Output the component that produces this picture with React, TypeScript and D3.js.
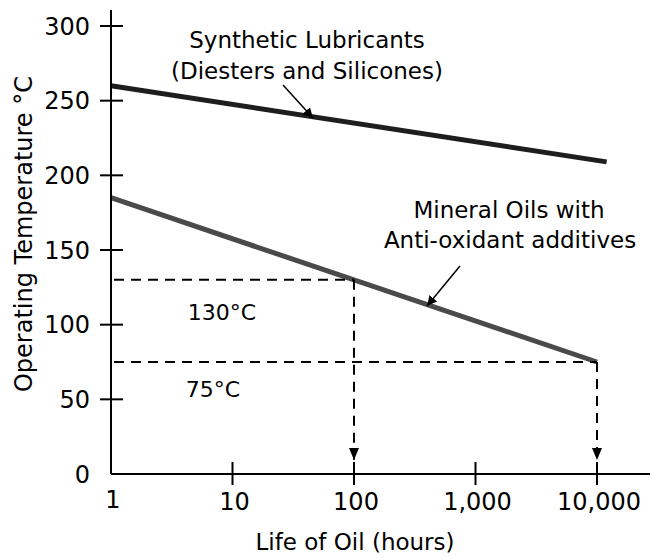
import React from "react";
import * as d3 from "d3";

const xTicks = [10, 100, 1000, 10000];
const xTickLabels = ["10", "100", "1,000", "10,000"];
const yTicks = [0, 50, 100, 150, 200, 250, 300];
const synthetic = [
  { hours: 1, temp: 260 },
  { hours: 12000, temp: 209 },
];
const mineral = [
  { hours: 1, temp: 185 },
  { hours: 10000, temp: 75 },
];
const refLevels = [
  { temp: 130, hours: 100, label: "130°C" },
  { temp: 75, hours: 10000, label: "75°C" },
];

const W = 650;
const H = 558;
const FONT = "'DejaVu Sans', 'Liberation Sans', Arial, sans-serif";

export default function App() {
  const x = d3.scaleLog().domain([1, 10000]).range([111, 597]);
  const y = d3.scaleLinear().domain([0, 300]).range([474, 26]);
  const line = d3
    .line<{ hours: number; temp: number }>()
    .x((d) => x(d.hours))
    .y((d) => y(d.temp));

  const x0 = x(1);
  const y0 = y(0);
  const labelPos = [
    { x: 222, dy: 40 },
    { x: 213, dy: 35 },
  ];

  return (
    <svg
      width={W}
      height={H}
      style={{ position: "absolute", left: 0, top: 0, background: "#fff" }}
      fontFamily={FONT}
    >
      <defs>
        <marker
          id="ah"
          viewBox="0 0 10 10"
          refX="10"
          refY="5"
          markerWidth="10"
          markerHeight="10"
          markerUnits="userSpaceOnUse"
          orient="auto"
        >
          <path d="M0,0 L10,5 L0,10 Z" fill="#000" />
        </marker>
        <marker
          id="ah2"
          viewBox="0 0 12 10"
          refX="12"
          refY="5"
          markerWidth="12"
          markerHeight="10"
          markerUnits="userSpaceOnUse"
          orient="auto"
        >
          <path d="M0,0 L12,5 L0,10 Z" fill="#000" />
        </marker>
      </defs>

      {/* data lines */}
      <path d={line(synthetic) || ""} stroke="#1e1e1e" strokeWidth={5} fill="none" />
      <path d={line(mineral) || ""} stroke="#4a4a4a" strokeWidth={5} fill="none" />

      {/* reference dashed lines */}
      {refLevels.map((r, i) => (
        <g key={i}>
          <line
            x1={x0 + 3}
            x2={x(r.hours)}
            y1={y(r.temp)}
            y2={y(r.temp)}
            stroke="#000"
            strokeWidth={2}
            strokeDasharray="10,7"
          />
          <line
            x1={x(r.hours)}
            x2={x(r.hours)}
            y1={y(r.temp)}
            y2={y0 - 14}
            stroke="#000"
            strokeWidth={2}
            strokeDasharray="10,7"
            markerEnd="url(#ah2)"
          />
          <text
            x={labelPos[i].x}
            y={y(r.temp) + labelPos[i].dy}
            fontSize={22}
            textAnchor="middle"
            fill="#000"
          >
            {r.label}
          </text>
        </g>
      ))}

      {/* axes */}
      <line x1={x0} x2={x0} y1={10} y2={y0} stroke="#000" strokeWidth={2} />
      <line x1={x0} x2={650} y1={y0} y2={y0} stroke="#000" strokeWidth={2} />
      {yTicks.map((t) => (
        <g key={t}>
          {t > 0 && (
            <line x1={x0 - 11} x2={x0 + 12} y1={y(t)} y2={y(t)} stroke="#000" strokeWidth={2} />
          )}
          <text
            x={90}
            y={y(t)}
            dy="0.36em"
            fontSize={24}
            textAnchor="end"
            fill="#000"
          >
            {t}
          </text>
        </g>
      ))}
      {xTicks.map((t, i) => (
        <g key={t}>
          <line x1={x(t)} x2={x(t)} y1={y0 - 12} y2={y0 + 11} stroke="#000" strokeWidth={2} />
          <text x={x(t) + 2} y={510} fontSize={24} textAnchor="middle" fill="#000">
            {xTickLabels[i]}
          </text>
        </g>
      ))}
      <text x={x0 + 2} y={508} fontSize={24} textAnchor="middle" fill="#000">
        1
      </text>

      {/* axis titles */}
      <text x={355} y={550} fontSize={23} textAnchor="middle" fill="#000">
        Life of Oil (hours)
      </text>
      <text
        transform={`translate(32,234) rotate(-90)`}
        fontSize={24}
        textAnchor="middle"
        fill="#000"
      >
        Operating Temperature °C
      </text>

      {/* annotations */}
      <text x={307} y={48} fontSize={23} textAnchor="middle" fill="#000">
        Synthetic Lubricants
      </text>
      <text x={307} y={79} fontSize={23} textAnchor="middle" fill="#000">
        (Diesters and Silicones)
      </text>
      <line x1={283} y1={85} x2={313} y2={118} stroke="#000" strokeWidth={1.5} markerEnd="url(#ah)" />

      <text x={509} y={218} fontSize={23} textAnchor="middle" fill="#000">
        Mineral Oils with
      </text>
      <text x={510} y={248} fontSize={23} textAnchor="middle" fill="#000">
        Anti-oxidant additives
      </text>
      <line x1={460} y1={266} x2={427} y2={306} stroke="#000" strokeWidth={1.5} markerEnd="url(#ah)" />
    </svg>
  );
}
